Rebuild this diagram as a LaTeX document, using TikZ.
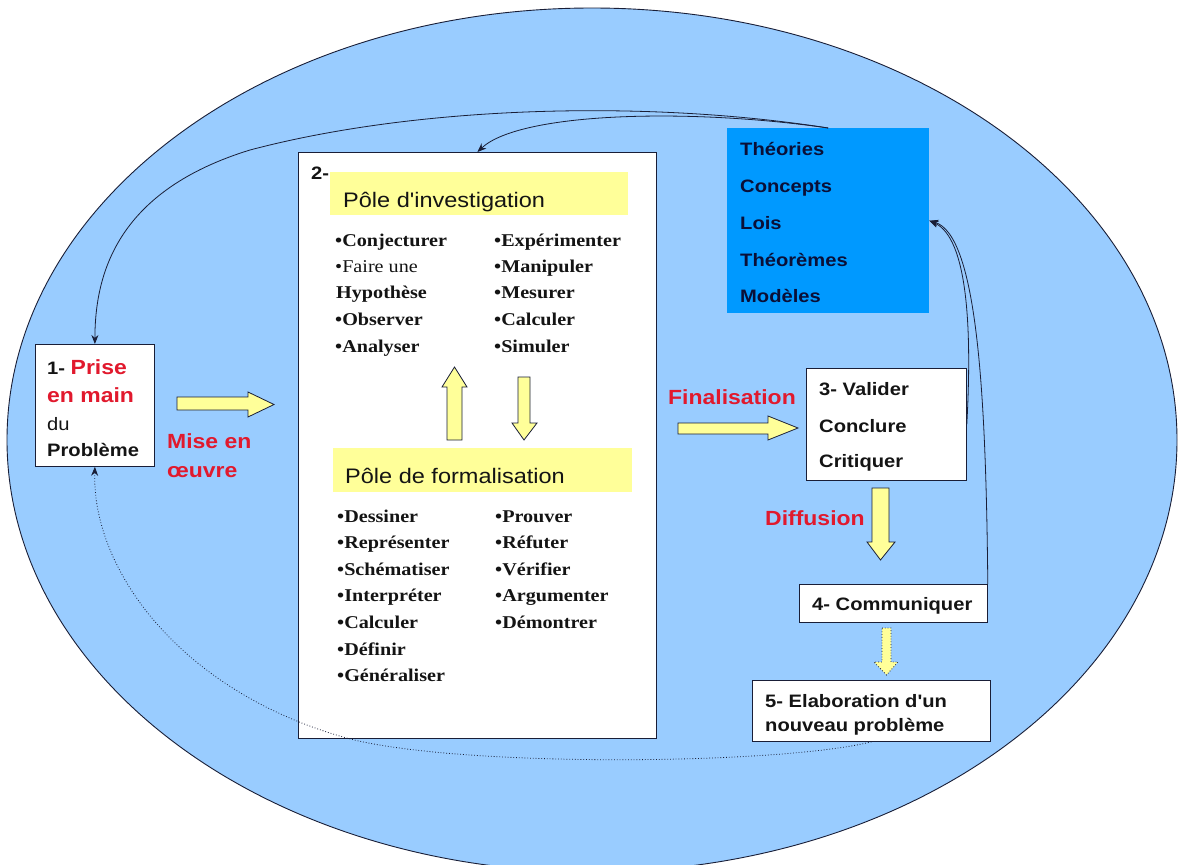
\documentclass[tikz,border=0pt]{standalone}
\usepackage{fontspec}
\setmainfont{Liberation Sans}
\newfontfamily\mysans{Liberation Sans}[FakeStretch=1.12]
\newfontfamily\myserif{Liberation Serif}[FakeStretch=1.12]
\usetikzlibrary{arrows.meta}
\definecolor{ellfill}{RGB}{153,204,255}
\definecolor{ellline}{RGB}{25,30,55}
\definecolor{bluebox}{RGB}{0,153,255}
\definecolor{navytxt}{RGB}{10,15,55}
\definecolor{hdrfill}{RGB}{255,255,153}
\definecolor{arrfill}{RGB}{255,255,153}
\definecolor{redlab}{RGB}{225,25,45}
\definecolor{txtdark}{RGB}{20,20,20}
\newcommand\mySB{\mysans\bfseries\fontsize{18}{18}\selectfont}
\newcommand\mySR{\mysans\fontsize{18}{18}\selectfont}
\newcommand\myRed{\mysans\bfseries\fontsize{20.5}{20.5}\selectfont\color{redlab}}
\newcommand\myHdr{\mysans\fontsize{21}{21}\selectfont}
\newcommand\myLB{\myserif\bfseries\fontsize{18}{18}\selectfont}
\newcommand\myLR{\myserif\fontsize{18}{18}\selectfont}
\begin{document}
\begin{tikzpicture}[x=1pt,y=-1pt,
  boxw/.style={draw=ellline, line width=0.8pt, fill=white, inner sep=0pt, anchor=north west},
  hdrbox/.style={fill=hdrfill, inner sep=0pt, anchor=north west},
  txt/.style={anchor=base west, inner sep=0pt, text=txtdark},
  bluetxt/.style={anchor=base west, inner sep=0pt, text=navytxt},
  blockarr/.style={draw=ellline, line width=0.8pt, fill=arrfill, line join=miter},
  conn/.style={draw=ellline, line width=0.8pt, -{Stealth[length=9pt,width=7pt]}},
]
\useasboundingbox (0,0) rectangle (1179,865);
\fill[white] (0,0) rectangle (1179,865);
% big ellipse
\draw[ellline, line width=0.9pt, fill=ellfill] (592,440) ellipse [x radius=585, y radius=432];

% boxes
\node[boxw, minimum width=119pt, minimum height=122pt] (b1) at (35,344) {};
\node[boxw, minimum width=358pt, minimum height=586pt] (b2) at (298,152) {};
\node[hdrbox, minimum width=298pt, minimum height=43pt] (h1) at (330,172) {};
\node[hdrbox, minimum width=299pt, minimum height=44pt] (h2) at (333,448) {};
\node[fill=bluebox, inner sep=0pt, anchor=north west, minimum width=202pt, minimum height=185pt] (bl) at (727,128) {};
\node[boxw, minimum width=160pt, minimum height=112pt] (b3) at (806,368) {};
\node[boxw, minimum width=188pt, minimum height=38pt] (b4) at (799,584) {};
\node[boxw, minimum width=238pt, minimum height=61pt] (b5) at (752,680) {};

% block arrows
\draw[blockarr] (177,397) -- (248,397) -- (248,392) -- (274,404.5) -- (248,417) -- (248,410) -- (177,410) -- cycle;
\draw[blockarr] (447,440) -- (447,387) -- (442,387) -- (454.5,367) -- (467,387) -- (462,387) -- (462,440) -- cycle;
\draw[blockarr] (518,377) -- (530,377) -- (530,423) -- (537,423) -- (524,440) -- (512,423) -- (518,423) -- cycle;
\draw[blockarr] (678,423) -- (768,423) -- (768,416) -- (798,428) -- (768,440) -- (768,434) -- (678,434) -- cycle;
\draw[blockarr] (872,488) -- (889,488) -- (889,542) -- (895,542) -- (880.5,560) -- (867,542) -- (872,542) -- cycle;
\draw[blockarr, dotted] (882,628) -- (891,628) -- (891,662) -- (898,662) -- (886.5,675) -- (874,662) -- (882,662) -- cycle;

% box 1 text
\node[txt] (t1a) at (47,374) {\mySB 1- {\myRed Prise}};
\node[txt] (t1b) at (47,402) {\myRed en main};
\node[txt] (t1c) at (47,430) {\mySR du};
\node[txt] (t1d) at (47,456) {\mySB Problème};
\node[txt] (mise1) at (167,448) {\myRed Mise en};
\node[txt] (mise2) at (167,477) {\myRed œuvre};

% box 2 text
\node[txt] (t2) at (311,179) {\mySB 2-};
\node[txt] (h1t) at (343,207) {\myHdr Pôle d'investigation};
\node[txt] (h2t) at (345,483) {\myHdr Pôle de formalisation};

\node[txt] (i1) at (335,246) {\myLB •Conjecturer};
\node[txt] (i2) at (335,272) {\myLR •Faire une};
\node[txt] (i3) at (336,298) {\myLB Hypothèse};
\node[txt] (i4) at (335,325) {\myLB •Observer};
\node[txt] (i5) at (335,352) {\myLB •Analyser};
\node[txt] (j1) at (494,246) {\myLB •Expérimenter};
\node[txt] (j2) at (494,272) {\myLB •Manipuler};
\node[txt] (j3) at (494,298) {\myLB •Mesurer};
\node[txt] (j4) at (494,325) {\myLB •Calculer};
\node[txt] (j5) at (494,352) {\myLB •Simuler};

\node[txt] (f1) at (337,522) {\myLB •Dessiner};
\node[txt] (f2) at (337,548) {\myLB •Représenter};
\node[txt] (f3) at (337,575) {\myLB •Schématiser};
\node[txt] (f4) at (337,601) {\myLB •Interpréter};
\node[txt] (f5) at (337,628) {\myLB •Calculer};
\node[txt] (f6) at (337,655) {\myLB •Définir};
\node[txt] (f7) at (337,681) {\myLB •Généraliser};
\node[txt] (g1) at (495,522) {\myLB •Prouver};
\node[txt] (g2) at (495,548) {\myLB •Réfuter};
\node[txt] (g3) at (495,575) {\myLB •Vérifier};
\node[txt] (g4) at (495,601) {\myLB •Argumenter};
\node[txt] (g5) at (495,628) {\myLB •Démontrer};

% blue box text
\node[bluetxt] (k1) at (740,155) {\mySB Théories};
\node[bluetxt] (k2) at (740,192) {\mySB Concepts};
\node[bluetxt] (k3) at (740,229) {\mySB Lois};
\node[bluetxt] (k4) at (740,266) {\mySB Théorèmes};
\node[bluetxt] (k5) at (740,302) {\mySB Modèles};

% box 3,4,5 text
\node[txt] (v1) at (819,395) {\mySB 3- Valider};
\node[txt] (v2) at (819,432) {\mySB Conclure};
\node[txt] (v3) at (819,467) {\mySB Critiquer};
\node[txt] (c4) at (812,610) {\mySB 4- Communiquer};
\node[txt] (e1) at (765,707) {\mySB 5- Elaboration d'un};
\node[txt] (e2) at (765,731) {\mySB nouveau problème};

\node[txt] (fin) at (668,404) {\myRed Finalisation};
\node[txt] (dif) at (765,525) {\myRed Diffusion};

% connectors
\draw[conn] (bl.north) .. controls (650,100) and (420,105) .. (250,150)
  .. controls (120,190) and (95,270) .. (b1.north);
\draw[conn] (bl.north) .. controls (690,108) and (520,112) .. (b2.north);
\draw[conn] (b3.east) .. controls (972,330) and (968,238) .. (bl.east);
\draw[conn] (b4.north east) .. controls (986,400) and (978,235) .. (bl.east);
\draw[conn, dotted] (b5.south) .. controls (780,765) and (450,768) .. (343,737)
  .. controls (180,690) and (92,570) .. (b1.south);
\end{tikzpicture}
\end{document}
